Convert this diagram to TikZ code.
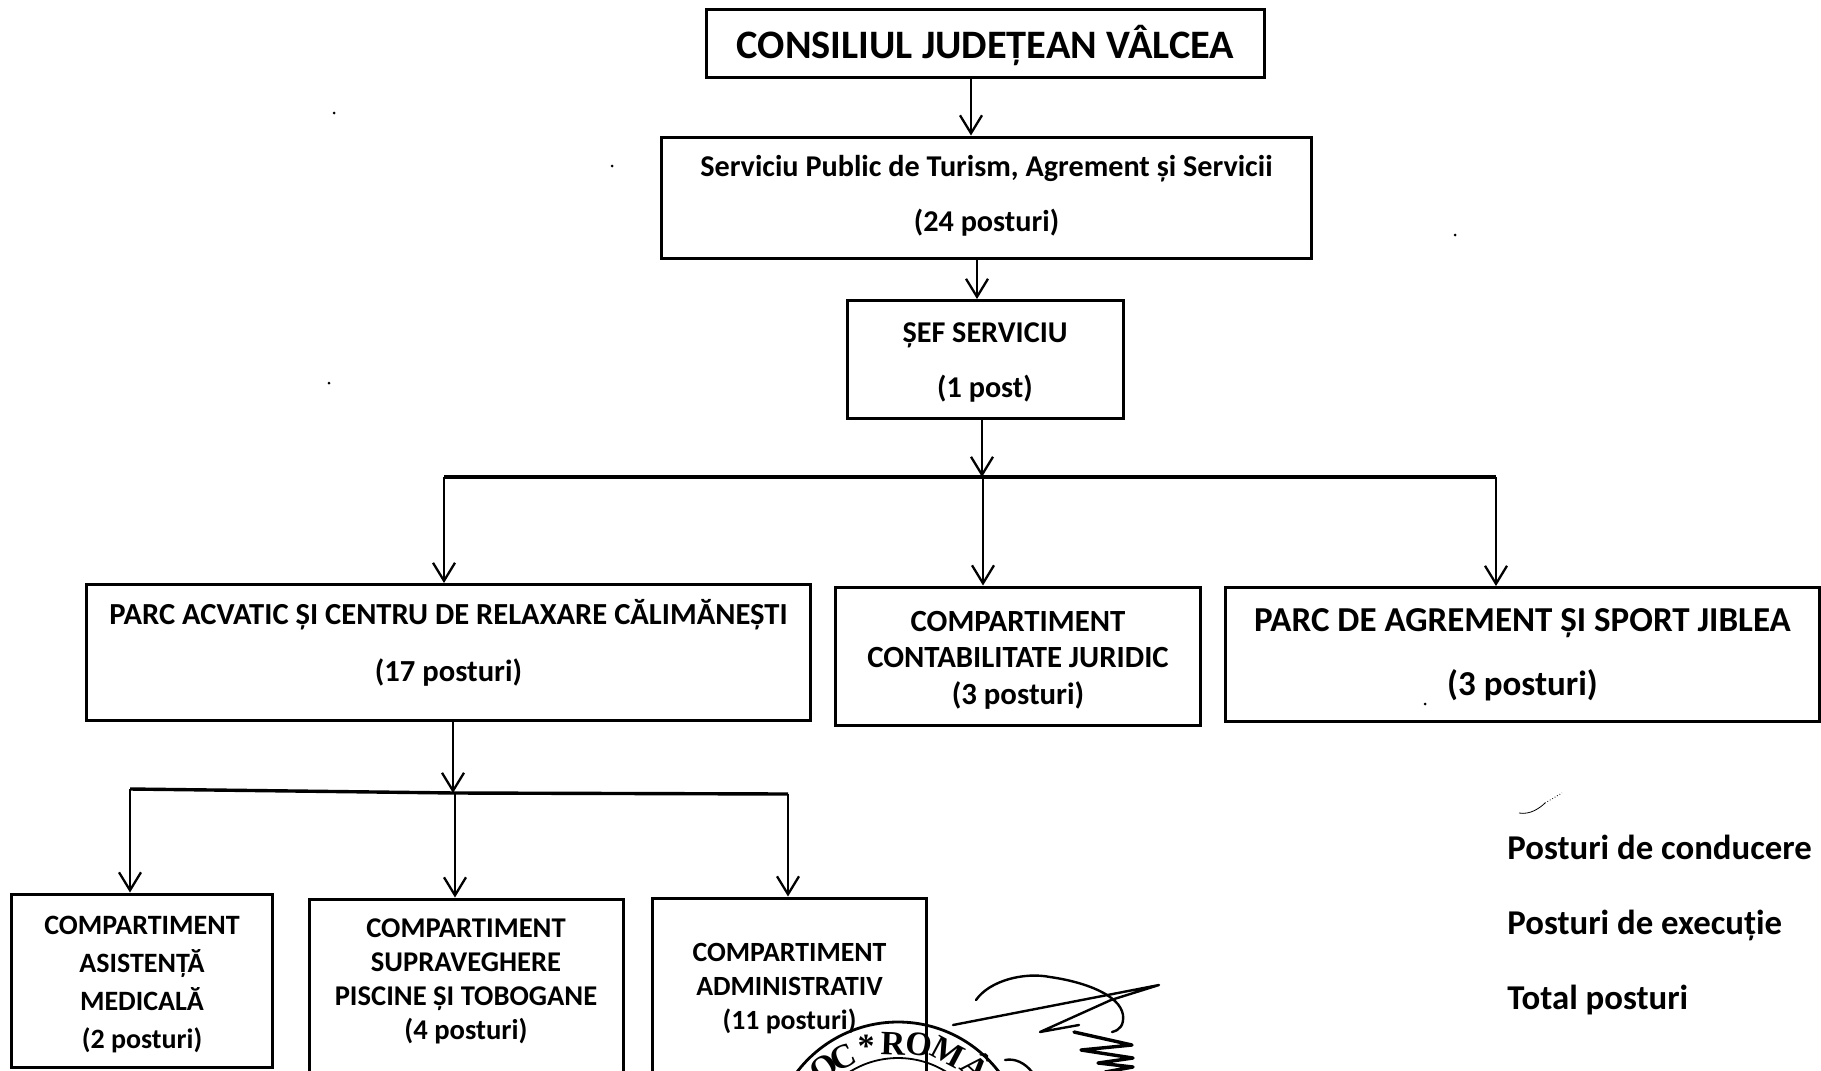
\documentclass[tikz,border=0pt]{standalone}
\usepackage{fontspec}
\setmainfont{Carlito}
\newfontfamily\stampfont{Liberation Serif}
\usetikzlibrary{arrows.meta}
\tikzset{
 x=0.5pt,y=-0.5pt,
 boxb/.style n args={3}{draw=black,line width=1.5pt,rectangle,inner sep=0pt,align=center,font=\bfseries,
   minimum width=#1,text height=#2,text depth=#3},
 arr/.style={line width=1.15pt,-{Straight Barb[length=9pt,width=11pt,line width=1.15pt]}},
 bus/.style={line width=1.7pt},
 sig/.style={line width=1.2pt,line cap=round,line join=round},
 speck/.style={fill=black,radius=1.5},
 stampl/.style={font=\stampfont\bfseries\fontsize{17}{17}\selectfont,inner sep=0pt},
 legend/.style={anchor=base west,inner sep=0pt,font=\bfseries\fontsize{17.4}{17.4}\selectfont},
}
\begin{document}
\begin{tikzpicture}
\clip (0,0) rectangle (1821,1071);
\fill[white] (0,0) rectangle (1821,1071);
% boxes: width, height above last baseline, depth under last baseline (pt)
\node[boxb={279pt}{24.5pt}{9.5pt},font=\bfseries\fontsize{20.2}{20.2}\selectfont] (a) at (985.5,43.5) {CONSILIUL JUDEȚEAN VÂLCEA};
\node[boxb={325pt}{47pt}{13.5pt},font=\bfseries\fontsize{15.1}{27.5}\selectfont] (b) at (986.5,197.5) {Serviciu Public de Turism, Agrement și Servicii\\(24 posturi)};
\node[boxb={138pt}{48.5pt}{10.5pt},font=\bfseries\fontsize{15.1}{27.5}\selectfont] (c) at (985,359.5) {ȘEF SERVICIU\\(1 post)};
\node[boxb={362pt}{48.5pt}{19.5pt},font=\bfseries\fontsize{15.3}{28.5}\selectfont] (d) at (448.5,652.5) {PARC ACVATIC ȘI CENTRU DE RELAXARE CĂLIMĂNEȘTI\\(17 posturi)};
\node[boxb={182.5pt}{58.5pt}{10.5pt},font=\bfseries\fontsize{15.4}{18.2}\selectfont] (e) at (1018,656) {COMPARTIMENT\\CONTABILITATE JURIDIC\\(3 posturi)};
\node[boxb={297pt}{54pt}{13pt},font=\bfseries\fontsize{17.5}{32}\selectfont] (f) at (1522.5,654.5) {PARC DE AGREMENT ȘI SPORT JIBLEA\\(3 posturi)};
\node[boxb={130.5pt}{77pt}{9.5pt},font=\bfseries\fontsize{14}{19}\selectfont] (g) at (142,980.5) {COMPARTIMENT\\ASISTENȚĂ\\MEDICALĂ\\(2 posturi)};
\node[boxb={157pt}{70pt}{25pt},font=\bfseries\fontsize{14.3}{17}\selectfont] (h) at (466,994) {COMPARTIMENT\\SUPRAVEGHERE\\PISCINE ȘI TOBOGANE\\(4 posturi)};
\node[boxb={137pt}{65.5pt}{30pt},font=\bfseries\fontsize{13.9}{16.8}\selectfont] (i) at (789.5,993.5) {COMPARTIMENT\\ADMINISTRATIV\\(11 posturi)};
% legend
\node[legend] (l1) at (1507,859) {Posturi de conducere};
\node[legend] (l2) at (1507,934) {Posturi de execuție};
\node[legend] (l3) at (1507,1009) {Total posturi};
% connector guide points
\coordinate (ab) at (971,0);
\coordinate (bc) at (977,0);
\coordinate (cb) at (982,0);
\coordinate (busL) at (444,477);
\coordinate (busM) at (983,477);
\coordinate (busR) at (1496,477);
\coordinate (dx) at (453,0);
\coordinate (botL) at (130,789);
\coordinate (botM) at (455,793);
\coordinate (botR) at (788,794);
\draw[arr] (a.south -| ab) -- (b.north -| ab);
\draw[arr] (b.south -| bc) -- (c.north -| bc);
\draw[arr] (c.south -| cb) -- (cb |- busM);
\draw[bus] (busL) -- (busR);
\draw[arr] (busL) -- (d.north -| busL);
\draw[arr] (busM) -- (e.north -| busM);
\draw[arr] (busR) -- (f.north -| busR);
\draw[arr] (d.south -| dx) -- (dx |- botM);
\draw[bus] (botL) -- (botM) -- (botR);
\draw[arr] (botL) -- (g.north -| botL);
\draw[arr] (botM) -- (h.north -| botM);
\draw[arr] (botR) -- (i.north -| botR);
% stamp
\draw[line width=1.4pt] (898,1149) circle [radius=127];
\draw[line width=0.9pt] (898,1149) circle [radius=91];
\node[stampl,rotate=35] (s1) at (824,1068) {O};
\node[stampl,rotate=25] (s2) at (843,1057) {C};
\node[stampl] (s3) at (866,1046) {*};
\node[stampl,rotate=-2] (s4) at (893,1044) {R};
\node[stampl,rotate=-8] (s5) at (919,1044) {O};
\node[stampl,rotate=-28] (s6) at (948,1052) {M};
\node[stampl,rotate=-42] (s7) at (977,1066) {Â};
% signature
\draw[sig] (976,1000) .. controls (990,980) and (1025,972) .. (1050,977) .. controls (1085,982) and (1120,995) .. (1123,1015) .. controls (1124,1025) and (1120,1030) .. (1112,1032);
\draw[sig] (953,1025) -- (1159,985) -- (1111,1000) -- (1040,1032) -- (1079,1025);
\draw[sig,line width=1.7pt] (1074,1032) -- (1132,1045) -- (1081,1050) -- (1133,1058) -- (1098,1063) -- (1133,1067) -- (1105,1072);
\draw[sig] (1005,1060) .. controls (1015,1058) and (1025,1063) .. (1032,1072);
% specks
\fill[speck] (334,113) circle;
\fill[speck] (612,166) circle;
\fill[speck] (1455,235) circle;
\fill[speck] (329,383) circle;
\fill[speck] (1425,704) circle;
\draw[line width=0.4pt] (1519,813) .. controls (1530,815) and (1540,808) .. (1545,803);
\draw[line width=0.4pt,densely dotted] (1545,803) -- (1562,793);
\end{tikzpicture}
\end{document}
